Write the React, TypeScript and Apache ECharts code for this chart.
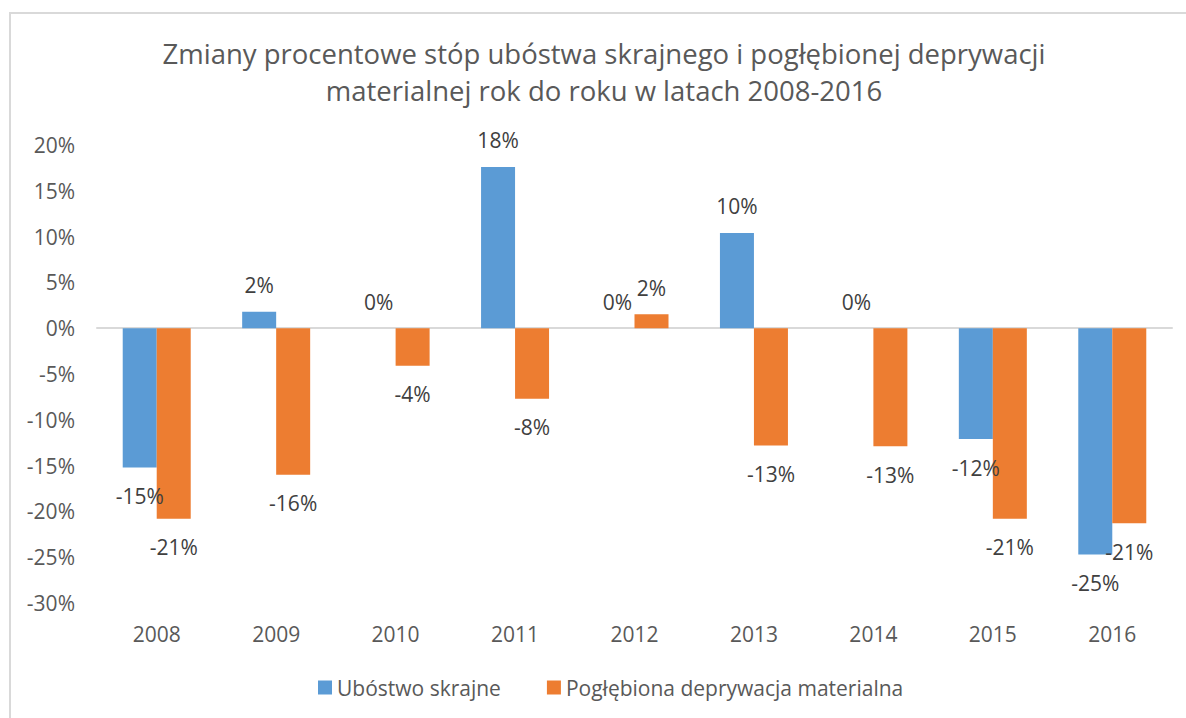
import React, { useEffect, useRef } from "react";
import * as echarts from "echarts";

const years = ["2008", "2009", "2010", "2011", "2012", "2013", "2014", "2015", "2016"];
const ubostwo = [-15.2, 1.8, 0, 17.6, 0, 10.4, 0, -12.1, -24.7];
const deprywacja = [-20.8, -16.0, -4.1, -7.7, 1.52, -12.8, -12.9, -20.8, -21.3];
const seriesNames = ["Ubóstwo skrajne", "Pogłębiona deprywacja materialna"];
const titleText = "Zmiany procentowe stóp ubóstwa skrajnego i pogłębionej deprywacji\nmaterialnej rok do roku w latach 2008-2016";

const FONT = "'Open Sans', sans-serif";

function toItems(values: number[]) {
  return values.map((v) => ({
    value: v,
    label: {
      position: v < 0 ? "bottom" : "top",
      distance: v < 0 ? 18 : 16,
    },
  }));
}

export default function App() {
  const ref = useRef<HTMLDivElement>(null);
  useEffect(() => {
    if (!ref.current) return;
    const chart = echarts.init(ref.current, undefined, { renderer: "svg" });
    const labelCfg = {
      show: true,
      fontFamily: FONT,
      fontSize: 21,
      color: "#404040",
      formatter: (p: any) => Math.round(p.value) + "%",
    };
    chart.setOption({
      animation: false,
      backgroundColor: "#ffffff",
      title: {
        text: titleText,
        left: 604,
        textAlign: "center",
        top: 35,
        padding: 0,
        textStyle: {
          fontFamily: FONT,
          fontSize: 27.5,
          fontWeight: "normal",
          color: "#595959",
          lineHeight: 37,
        },
      },
      graphic: [
        {
          type: "rect",
          shape: { x: 10, y: 13, width: 1300, height: 800 },
          style: { fill: "none", stroke: "#d9d9d9", lineWidth: 2 },
          silent: true,
          z: -1,
        },
      ],
      legend: {
        data: seriesNames,
        left: 318,
        top: 677,
        padding: 0,
        itemWidth: 14,
        itemHeight: 14,
        itemGap: 46,
        icon: "rect",
        textStyle: { fontFamily: FONT, fontSize: 21, color: "#595959" },
      },
      grid: { left: 97, right: 14, top: 145, bottom: 115, containLabel: false },
      xAxis: [
        {
          type: "category",
          data: years,
          position: "bottom",
          axisLine: { show: true, onZero: true, lineStyle: { color: "#d9d9d9", width: 2 } },
          axisTick: { show: false },
          axisLabel: { show: false },
          splitLine: { show: false },
        },
        {
          type: "category",
          data: years,
          position: "bottom",
          axisLine: { show: false, onZero: false },
          axisTick: { show: false },
          axisLabel: { show: true, margin: 20, fontFamily: FONT, fontSize: 21, color: "#595959" },
          splitLine: { show: false },
        },
      ],
      yAxis: {
        type: "value",
        min: -30,
        max: 20,
        interval: 5,
        axisLine: { show: false },
        axisTick: { show: false },
        splitLine: { show: false },
        axisLabel: {
          margin: 22,
          formatter: "{value}%",
          fontFamily: FONT,
          fontSize: 21,
          color: "#595959",
        },
      },
      series: [
        {
          name: seriesNames[0],
          type: "bar",
          xAxisIndex: 0,
          barWidth: 34,
          barGap: "0%",
          itemStyle: { color: "#5B9BD5" },
          label: labelCfg,
          data: toItems(ubostwo),
        },
        {
          name: seriesNames[1],
          type: "bar",
          xAxisIndex: 0,
          barWidth: 34,
          barGap: "0%",
          itemStyle: { color: "#ED7D31" },
          label: labelCfg,
          data: toItems(deprywacja),
        },
      ],
    });
    return () => chart.dispose();
  }, []);
  return (
    <div
      ref={ref}
      style={{ position: "fixed", left: 0, top: 0, width: 1186, height: 718, background: "#fff" }}
    />
  );
}
